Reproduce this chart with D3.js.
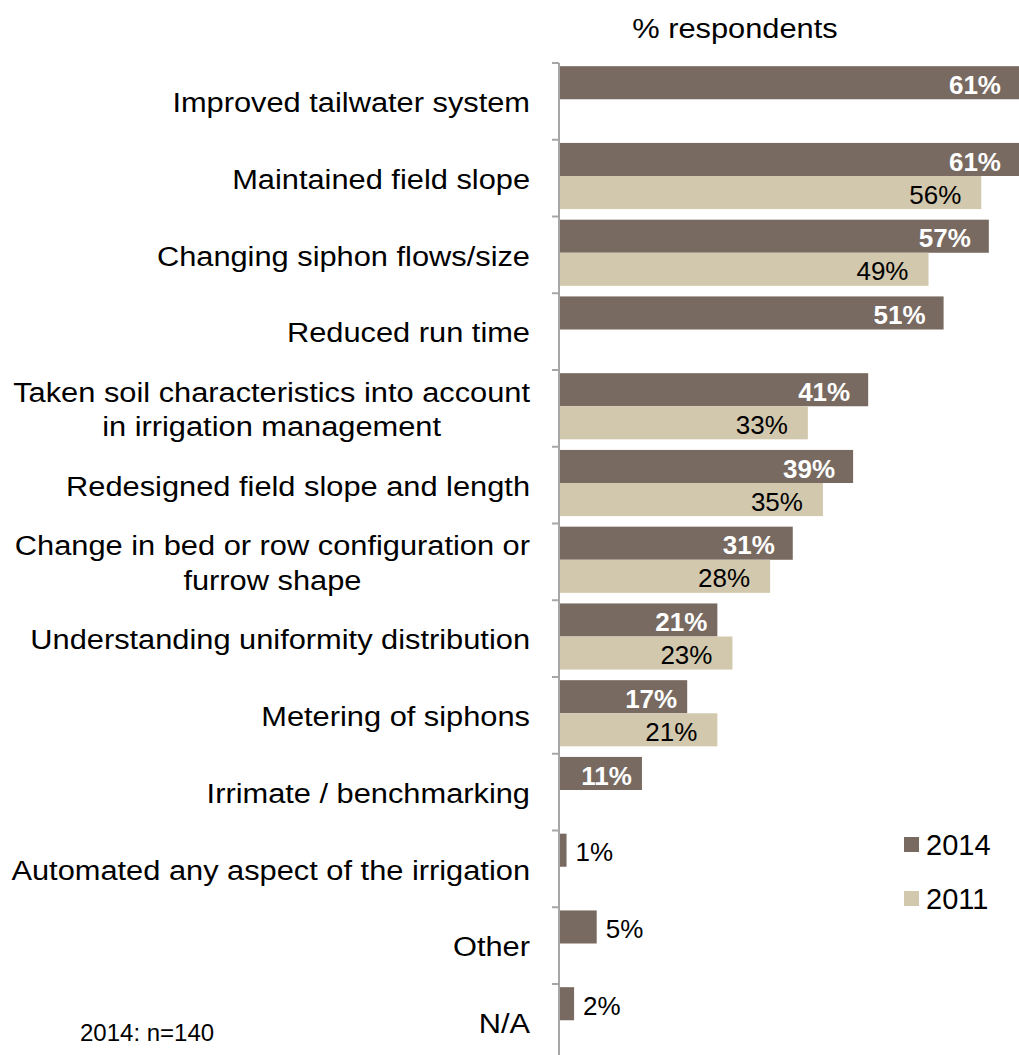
<!DOCTYPE html>
<html>
<head>
<meta charset="utf-8">
<script src="https://cdn.jsdelivr.net/npm/d3@7"></script>
<style>
  body { margin: 0; background: #fff; }
  svg { display: block; font-family: "Liberation Sans", Arial, sans-serif; }
</style>
</head>
<body>
<script>
// categories, top to bottom (\n = line break in the label)
var categories = [
  "Improved tailwater system",
  "Maintained field slope",
  "Changing siphon flows/size",
  "Reduced run time",
  "Taken soil characteristics into account\nin irrigation management",
  "Redesigned field slope and length",
  "Change in bed or row configuration or\nfurrow shape",
  "Understanding uniformity distribution",
  "Metering of siphons",
  "Irrimate / benchmarking",
  "Automated any aspect of the irrigation",
  "Other",
  "N/A"
];
var values2014 = [61, 61, 57, 51, 41, 39, 31, 21, 17, 11, 1, 5, 2];
var values2011 = [null, 56, 49, null, 33, 35, 28, 23, 21, null, null, null, null];
var seriesNames = ["2014", "2011"];

var colors = { "2014": "#786a61", "2011": "#d2c8ad" };

var width = 1019, height = 1055;
var stretch = 1.1; // text in the picture is a bit wide

var svg = d3.select('body').append('svg')
    .attr('width', width)
    .attr('height', height);

var x = d3.scaleLinear().domain([0, 61]).range([559, 1019]);
var y = d3.scaleBand().domain(categories).range([63, 1060.75]);
var ySub = d3.scaleBand().domain(seriesNames).range([0, y.bandwidth()])
    .paddingOuter(0.16).align(0.3);

var rows = [];
categories.forEach(function(c, i) {
    rows.push({ cat: c, series: "2014", value: values2014[i] });
    if (values2011[i] != null) rows.push({ cat: c, series: "2011", value: values2011[i] });
});

// bars
svg.selectAll('rect.bar')
    .data(rows)
    .enter()
  .append('rect')
    .attr('class', 'bar')
    .attr('x', x(0))
    .attr('y', d => y(d.cat) + ySub(d.series))
    .attr('width', d => x(d.value) - x(0))
    .attr('height', ySub.bandwidth())
    .attr('fill', d => colors[d.series]);

// value labels
svg.selectAll('text.val')
    .data(rows)
    .enter()
  .append('text')
    .attr('class', 'val')
    .text(d => d.value + '%')
    .attr('x', function(d) {
        if (d.value < 8) return x(d.value) + 9;
        if (d.series == "2011") return x(d.value) - 20;
        return d.value > 25 ? x(d.value) - 18 : x(d.value) - 10;
    })
    .attr('y', d => y(d.cat) + ySub(d.series) + ySub.bandwidth() / 2 + 2)
    .attr('dy', '0.35em')
    .attr('text-anchor', d => d.value < 8 ? 'start' : 'end')
    .attr('font-size', 26)
    .attr('font-weight', d => (d.series == "2014" && d.value >= 8) ? 'bold' : 'normal')
    .attr('fill', d => (d.series == "2014" && d.value >= 8) ? '#fff' : '#000');

// axis line and ticks between categories
svg.append('line')
    .attr('x1', x(0)).attr('x2', x(0))
    .attr('y1', y.range()[0]).attr('y2', y.range()[1])
    .attr('stroke', '#a6a6a6')
    .attr('stroke-width', 2);

var bounds = categories.map(c => y(c)).concat([y.range()[1]]);
svg.selectAll('line.tick')
    .data(bounds)
    .enter()
  .append('line')
    .attr('class', 'tick')
    .attr('x1', x(0) - 7).attr('x2', x(0))
    .attr('y1', d => d).attr('y2', d => d)
    .attr('stroke', '#a6a6a6')
    .attr('stroke-width', 2);

// category labels, right aligned block, lines centred inside the block
var lineGap = 34.5;
categories.forEach(function(c) {
    var lines = c.split('\n');
    var cy = y(c) + y.bandwidth() / 2 + 1;
    var g = svg.append('g')
        .attr('transform', 'translate(530,' + cy + ') scale(' + stretch + ',1)');
    var texts = lines.map(function(l, i) {
        return g.append('text')
            .text(l)
            .attr('y', (i - (lines.length - 1) / 2) * lineGap)
            .attr('dy', '0.35em')
            .attr('font-size', 28)
            .attr('fill', '#000');
    });
    var maxW = d3.max(texts, t => t.node().getComputedTextLength());
    texts.forEach(t => t.attr('x', -maxW / 2).attr('text-anchor', 'middle'));
});

// title
svg.append('text')
    .text('% respondents')
    .attr('transform', 'translate(735,38) scale(' + stretch + ',1)')
    .attr('text-anchor', 'middle')
    .attr('font-size', 28)
    .attr('fill', '#000');

// legend
var legend = svg.selectAll('g.legend')
    .data(seriesNames)
    .enter()
  .append('g')
    .attr('class', 'legend')
    .attr('transform', (d, i) => 'translate(904,' + (837 + i * 54) + ')');
legend.append('rect')
    .attr('width', 15).attr('height', 15)
    .attr('fill', d => colors[d]);
legend.append('text')
    .text(d => d)
    .attr('x', 22)
    .attr('y', 18)
    .attr('font-size', 29)
    .attr('fill', '#000');

// footnote
svg.append('text')
    .text('2014: n=140')
    .attr('x', 80)
    .attr('y', 1041)
    .attr('font-size', 24)
    .attr('fill', '#000');
</script>
</body>
</html>
